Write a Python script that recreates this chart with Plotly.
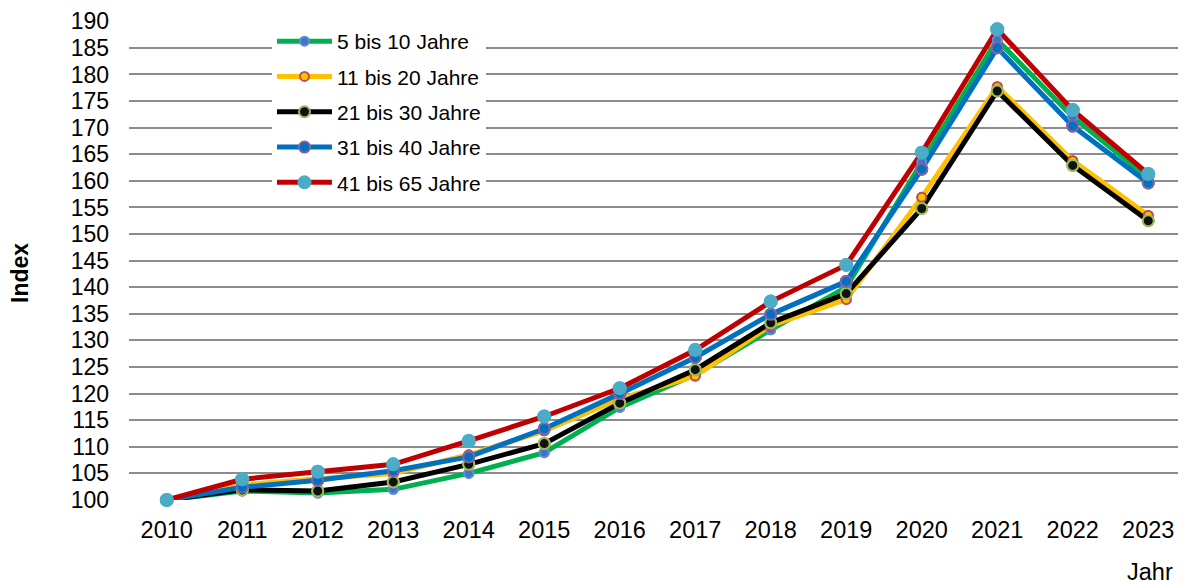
import plotly.graph_objects as go

years = ["2010","2011","2012","2013","2014","2015","2016","2017","2018","2019","2020","2021","2022","2023"]
s_5_10  = [100, 101.7, 101.3, 102.0, 105.0, 108.9, 117.4, 123.6, 132.0, 140.0, 163.5, 186.5, 172.0, 160.5]
s_11_20 = [100, 102.8, 104.0, 105.0, 108.5, 113.0, 119.0, 123.3, 132.8, 137.7, 156.9, 177.7, 163.8, 153.5]
s_21_30 = [100, 101.9, 101.7, 103.4, 106.7, 110.6, 118.2, 124.5, 133.3, 138.8, 154.8, 176.9, 162.9, 152.5]
s_31_40 = [100, 102.4, 103.7, 105.5, 108.1, 113.4, 120.0, 126.8, 134.9, 141.1, 162.2, 185.0, 170.3, 159.6]
s_41_65 = [100, 103.9, 105.3, 106.7, 111.1, 115.7, 121.0, 128.2, 137.3, 144.2, 165.3, 188.5, 173.3, 161.3]
y_ticks = [100, 105, 110, 115, 120, 125, 130, 135, 140, 145, 150, 155, 160, 165, 170, 175, 180, 185, 190]

names = ["5 bis 10 Jahre", "11 bis 20 Jahre", "21 bis 30 Jahre", "31 bis 40 Jahre", "41 bis 65 Jahre"]
series = [s_5_10, s_11_20, s_21_30, s_31_40, s_41_65]
line_colors = ["#00B050", "#FFC000", "#000000", "#0070C0", "#C00000"]
marker_fill = ["#4472C4", "#FFC000", "#111111", "#0070C0", "#4BACC6"]
marker_edge = ["#5B8FD5", "#C0504D", "#9BBB59", "#8064A2", "#4BACC6"]
marker_size = [9, 9, 11, 11, 12]

FONT = "Liberation Sans, Arial, sans-serif"
OFF = 8  # page body margin
FW, FH = 1186 - OFF, 585 - OFF
TOP_PX, BOT_PX, LEFT_PX = 21, 500, 129
ML, MT = LEFT_PX - OFF, TOP_PX - OFF
MB = FH - (BOT_PX - OFF)
MR = 0
W, H = FW - ML - MR, FH - MT - MB

def px_x(x):
    return (x - LEFT_PX) / W

def px_y(y):
    return (BOT_PX - y) / H

fig = go.Figure()
for i in range(5):
    fig.add_trace(go.Scatter(
        x=years, y=series[i], name=names[i], mode="lines+markers",
        legendgroup=names[i],
        line=dict(color=line_colors[i], width=5),
        marker=dict(size=marker_size[i], color=marker_fill[i],
                    line=dict(color=marker_edge[i], width=2)),
        cliponaxis=False,
    ))
for i in range(5):
    fig.add_trace(go.Scatter(
        x=years, y=series[i], mode="markers", showlegend=False,
        marker=dict(size=marker_size[i], color=marker_fill[i],
                    line=dict(color=marker_edge[i], width=2)),
        cliponaxis=False, hoverinfo="skip",
    ))

fig.update_layout(
    width=FW, height=FH,
    margin=dict(l=ML, r=MR, t=MT, b=MB, autoexpand=False),
    paper_bgcolor="white", plot_bgcolor="white",
    font=dict(family=FONT, size=21, color="#000000"),
    showlegend=True,
    legend=dict(x=px_x(272), y=px_y(21), xanchor="left", yanchor="top",
                bgcolor="white", borderwidth=0, tracegroupgap=5,
                traceorder="grouped", itemwidth=55,
                font=dict(family=FONT, size=21)),
    xaxis=dict(type="category", range=[-0.5, 13.5], automargin=False,
               showgrid=False, zeroline=False, showline=False,
               ticks="", tickfont=dict(size=23.5), ticklabelstandoff=13),
    yaxis=dict(range=[100, 190.05], tickmode="array", tickvals=y_ticks,
               automargin=False, showgrid=True, ticklabeloverflow="allow",
               gridcolor="#8C8C8C", gridwidth=1.5, zeroline=False, showline=False,
               ticks="", tickfont=dict(size=23), ticklabelstandoff=19),
    annotations=[
        dict(text="<b>Index</b>", x=px_x(20), y=px_y(273),
             xref="paper", yref="paper", showarrow=False, textangle=-90,
             xanchor="center", yanchor="middle", font=dict(size=23)),
        dict(text="Jahr", x=px_x(1150), y=px_y(572),
             xref="paper", yref="paper", showarrow=False,
             xanchor="center", yanchor="middle", font=dict(size=23.5)),
    ],
)

fig.write_html("out.html")
